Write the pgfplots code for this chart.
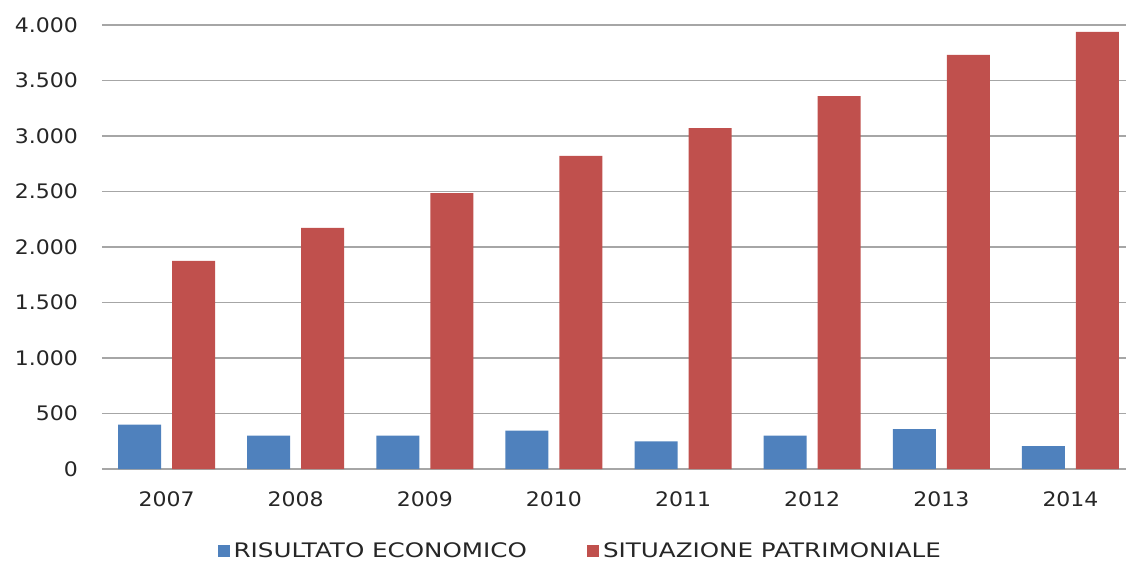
\documentclass[border=0pt]{standalone}
\usepackage{fontspec}
\setmainfont{DejaVu Sans}
\usepackage{pgfplots}
\pgfplotsset{compat=1.18}
\definecolor{cblue}{HTML}{4F81BD}
\definecolor{cred}{HTML}{C0504D}
\definecolor{cgrid}{HTML}{A6A6A6}
\definecolor{ctext}{HTML}{262626}
\begin{document}
\begin{tikzpicture}
\useasboundingbox (-51pt,-47pt) rectangle (512pt,234.5pt);
\begin{axis}[
  at={(0,0)}, anchor=south west,
  scale only axis,
  width=512pt, height=222pt,
  ybar=5.5pt, bar width=21.5pt,
  xmin=-0.5, xmax=7.43,
  ymin=0, ymax=4000,
  ytick={0,500,...,4000},
  xtick={0,...,7},
  xticklabels={2007,2008,2009,2010,2011,2012,2013,2014},
  axis line style={draw=none},
  ymajorgrids,
  grid style={cgrid, line width=0.8pt},
  major tick length=0pt,
  tick style={draw=none},
  /pgf/number format/assume math mode=true,
  /pgf/number format/1000 sep={.},
  scaled y ticks=false,
  ticklabel style={font=\fontsize{10}{12}\selectfont\addfontfeature{FakeStretch=1.1}, text=ctext},
  yticklabel style={xshift=-8.5pt},
  xticklabel style={yshift=-8pt},
  enlargelimits=false,
  legend columns=2,
  legend style={at={(0.468,-0.185)}, anchor=center, draw=none, fill=none,
    font=\fontsize{10}{12}\selectfont\addfontfeature{FakeStretch=1.23}, text=ctext,
    /tikz/every even column/.append style={column sep=28pt}},
  legend image code/.code={\fill[#1] (0pt,-3pt) rectangle (6pt,3pt);},
]
\addplot[fill=cblue, draw=none] coordinates {(0,400) (1,300) (2,300) (3,345) (4,250) (5,300) (6,360) (7,205)};
\addplot[fill=cred, draw=none] coordinates {(0,1875) (1,2172) (2,2485) (3,2820) (4,3072) (5,3360) (6,3730) (7,3937)};
\legend{RISULTATO ECONOMICO, SITUAZIONE PATRIMONIALE}
\end{axis}
\end{tikzpicture}
\end{document}
